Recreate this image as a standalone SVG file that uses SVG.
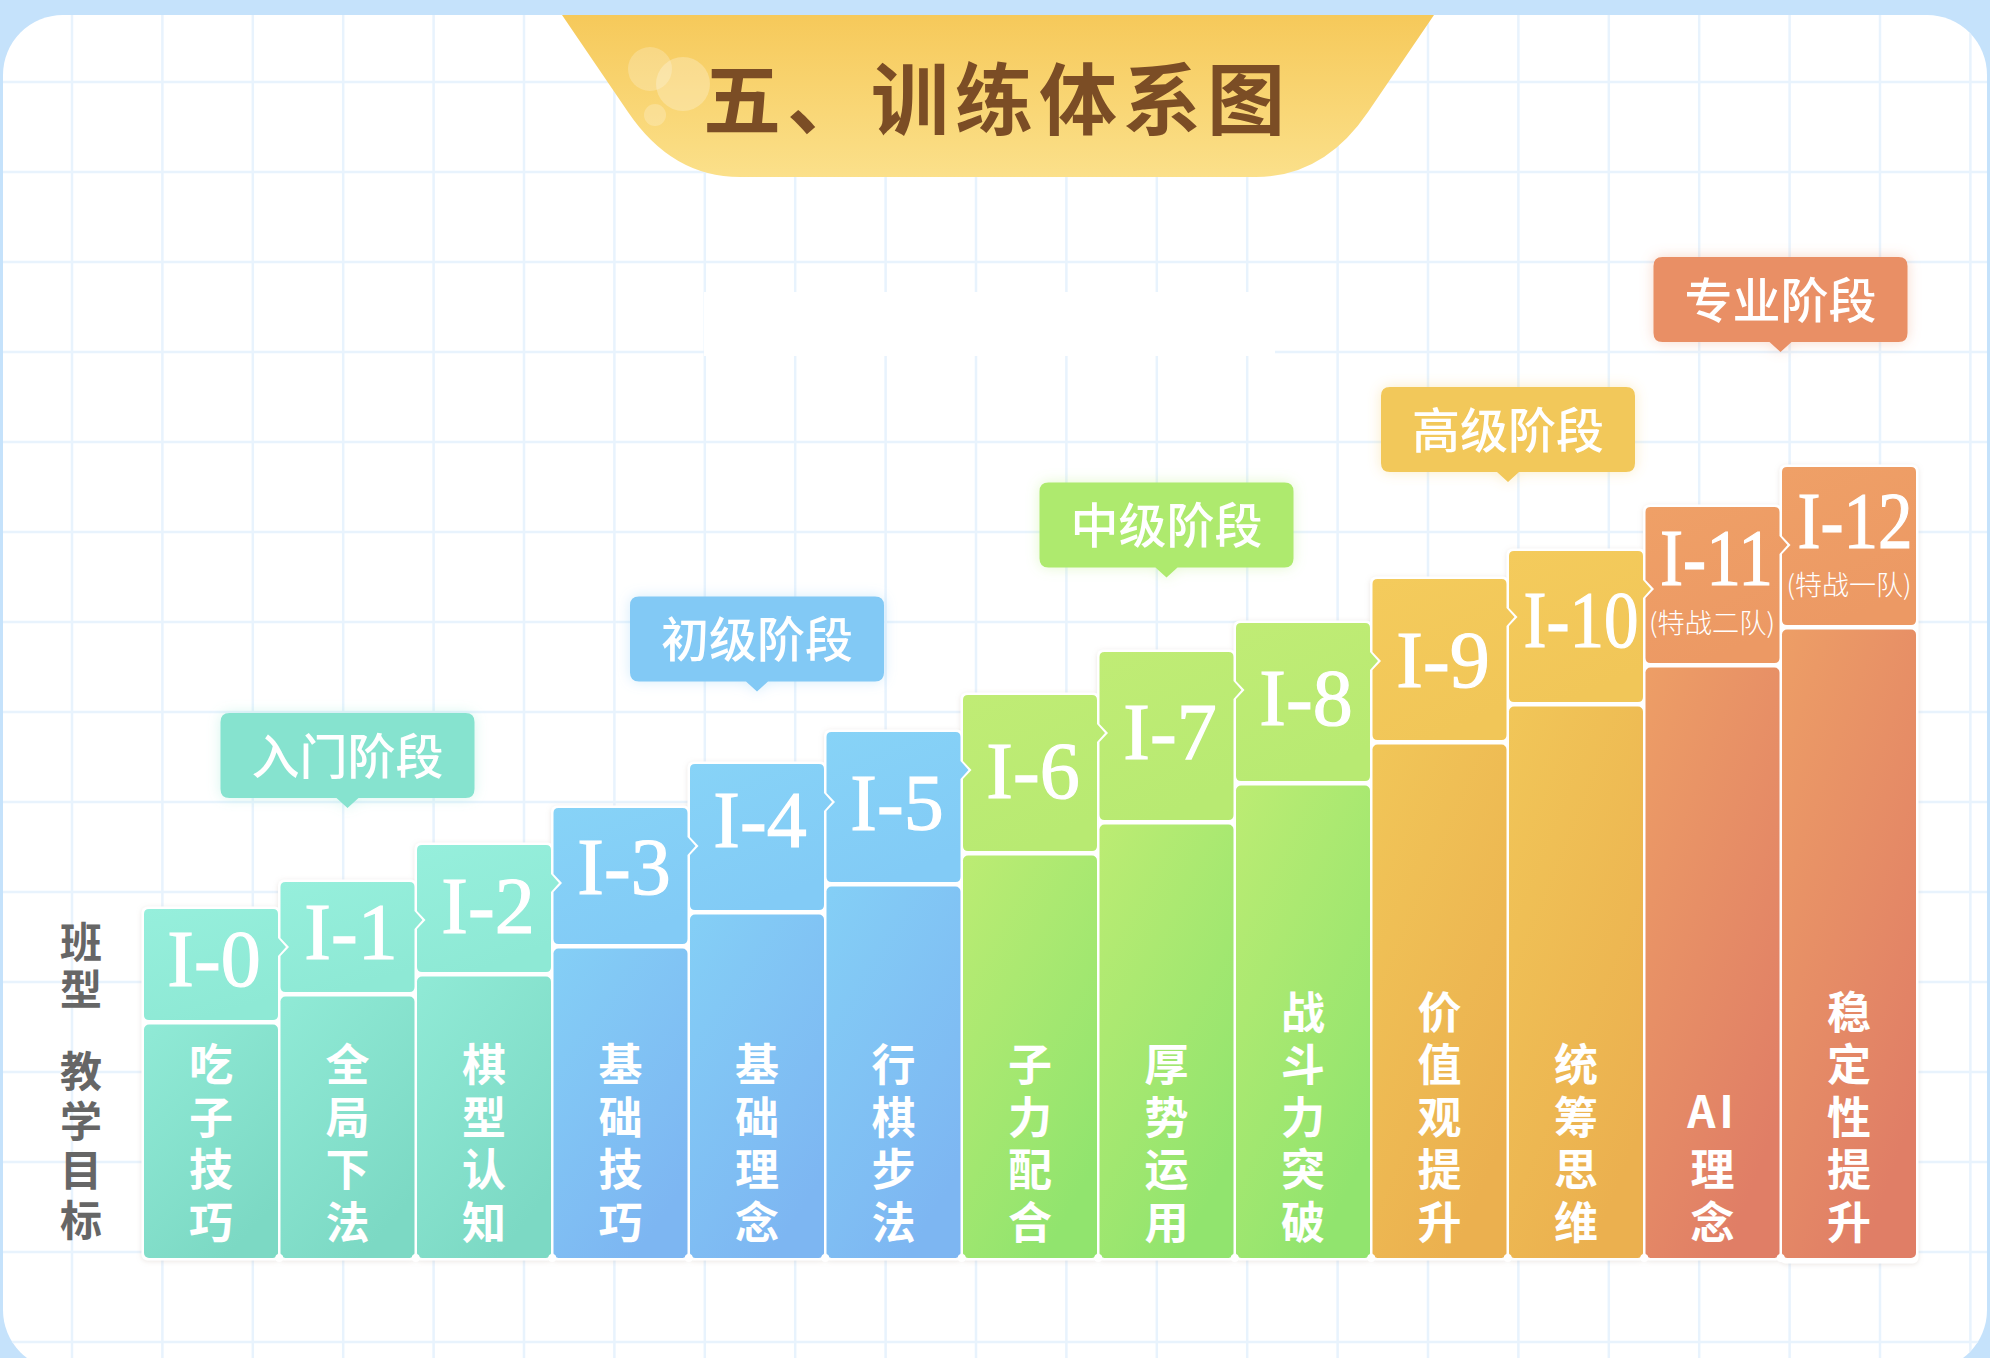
<svg xmlns="http://www.w3.org/2000/svg" width="1990" height="1358" viewBox="0 0 1990 1358">
<defs>
<style>
.grid{stroke:#e8f3fd;stroke-width:2.5;fill:none}
.cn{font-family:"Noto Sans CJK SC","Noto Sans",sans-serif}
.hd{font-family:"Liberation Serif",serif;font-size:80px;fill:#fff;stroke:#fff;stroke-width:1.2px;text-anchor:middle}
.sub{font-family:"Noto Sans CJK SC",sans-serif;font-size:27px;font-weight:300;fill:#fff;text-anchor:middle}
.bd{font-family:"Noto Sans CJK SC",sans-serif;font-size:44px;font-weight:700;fill:#fff;text-anchor:middle}
.vt{font-family:"Noto Sans CJK SC",sans-serif;font-size:44px;font-weight:700;fill:#fff;writing-mode:vertical-rl;text-anchor:start;letter-spacing:8.5px}
.lb{font-family:"Noto Sans CJK SC",sans-serif;font-size:48px;font-weight:500;fill:#fff;text-anchor:middle}
.side{font-family:"Noto Sans CJK SC",sans-serif;font-size:42px;font-weight:700;fill:#666;writing-mode:vertical-rl;text-anchor:start}
.dot{fill:#fff}
</style>
<clipPath id="cardClip"><rect x="3" y="15" width="1984" height="1355" rx="60"/></clipPath>
<linearGradient id="banner" x1="0" y1="0" x2="0" y2="1"><stop offset="0" stop-color="#f6c95a"/><stop offset="1" stop-color="#fbe08a"/></linearGradient>
<linearGradient id="tH" x1="0" y1="0" x2="0.4" y2="1"><stop offset="0" stop-color="#96efdc"/><stop offset="1" stop-color="#8ee9d5"/></linearGradient>
<linearGradient id="tB" x1="0" y1="0" x2="0.6" y2="1"><stop offset="0" stop-color="#90ead6"/><stop offset="1" stop-color="#7cd9c4"/></linearGradient>
<linearGradient id="bH" x1="0" y1="0" x2="0.4" y2="1"><stop offset="0" stop-color="#87d3f7"/><stop offset="1" stop-color="#82cbf6"/></linearGradient>
<linearGradient id="bB" x1="0" y1="0" x2="0.6" y2="1"><stop offset="0" stop-color="#84cff6"/><stop offset="1" stop-color="#7db6f2"/></linearGradient>
<linearGradient id="gH" x1="0" y1="0" x2="0.4" y2="1"><stop offset="0" stop-color="#c0ec75"/><stop offset="1" stop-color="#b8ea72"/></linearGradient>
<linearGradient id="gB" x1="0" y1="0" x2="0.6" y2="1"><stop offset="0" stop-color="#bcec73"/><stop offset="1" stop-color="#91e46e"/></linearGradient>
<linearGradient id="yH" x1="0" y1="0" x2="0.4" y2="1"><stop offset="0" stop-color="#f4cb5c"/><stop offset="1" stop-color="#f1c658"/></linearGradient>
<linearGradient id="yB" x1="0" y1="0" x2="0.6" y2="1"><stop offset="0" stop-color="#f1c658"/><stop offset="1" stop-color="#ebb04f"/></linearGradient>
<linearGradient id="oH" x1="0" y1="0" x2="0.4" y2="1"><stop offset="0" stop-color="#efa067"/><stop offset="1" stop-color="#ec9964"/></linearGradient>
<linearGradient id="oB" x1="0" y1="0" x2="0.6" y2="1"><stop offset="0" stop-color="#ed9e66"/><stop offset="1" stop-color="#e07e66"/></linearGradient>
<filter id="shadow" x="-10%" y="-10%" width="120%" height="120%"><feDropShadow dx="0" dy="1" stdDeviation="2.5" flood-color="#b5a397" flood-opacity="0.28"/></filter>
<filter id="glow" x="-20%" y="-30%" width="140%" height="160%"><feGaussianBlur in="SourceGraphic" stdDeviation="7" result="b"/><feComponentTransfer in="b" result="c"><feFuncA type="linear" slope="0.35"/></feComponentTransfer><feMerge><feMergeNode in="c"/><feMergeNode in="SourceGraphic"/></feMerge></filter>
</defs>

<rect x="0" y="0" width="1990" height="1358" fill="#c5e2fb"/>
<rect x="3" y="15" width="1984" height="1355" rx="60" fill="#ffffff"/>

<g id="grid" clip-path="url(#cardClip)">
<path class="grid" d="M72 15V1358M162.4 15V1358M252.8 15V1358M343.2 15V1358M433.6 15V1358M524 15V1358M614.4 15V1358M704.8 15V1358M795.2 15V1358M885.6 15V1358M976 15V1358M1066.4 15V1358M1156.8 15V1358M1247.2 15V1358M1337.6 15V1358M1428 15V1358M1518.4 15V1358M1608.8 15V1358M1699.2 15V1358M1789.6 15V1358M1880 15V1358M1970.4 15V1358"/>
<path class="grid" d="M0 82H1990M0 172H1990M0 262H1990M0 352H1990M0 442H1990M0 532H1990M0 622H1990M0 712H1990M0 802H1990M0 892H1990M0 982H1990M0 1072H1990M0 1162H1990M0 1252H1990M0 1342H1990"/>
</g>
<rect x="704" y="292" width="571" height="64" fill="#ffffff"/>

<g id="title">
<path d="M562,15 L1434,15 L1368,112 Q1324,177 1256,177 L740,177 Q672,177 628,112 Z" fill="url(#banner)"/>
<circle cx="650" cy="69" r="22" fill="#ffffff" fill-opacity="0.22"/>
<circle cx="683" cy="84" r="27" fill="#ffffff" fill-opacity="0.25"/>
<circle cx="655" cy="115" r="11" fill="#ffffff" fill-opacity="0.22"/>
<text x="703" y="129" class="cn" font-size="78" font-weight="700" fill="#7b4d25" letter-spacing="6">五、训练体系图</text>
</g>

<g id="row-labels">
<text class="side" x="81" y="921.5" letter-spacing="4.5">班型</text>
<text class="side" x="81" y="1050" letter-spacing="7.7">教学目标</text>
</g>

<g id="chart-base" filter="url(#shadow)" fill="#ffffff">
<rect x="141.5" y="906.5" width="139" height="354" rx="6"/>
<rect x="278" y="879.5" width="139" height="381" rx="6"/>
<rect x="414.5" y="842.5" width="139" height="418" rx="6"/>
<rect x="551" y="805.5" width="139" height="455" rx="6"/>
<rect x="687.5" y="761.5" width="139" height="499" rx="6"/>
<rect x="824" y="729.5" width="139" height="531" rx="6"/>
<rect x="960.5" y="692.5" width="139" height="568" rx="6"/>
<rect x="1097" y="649.5" width="139" height="611" rx="6"/>
<rect x="1233.5" y="620.5" width="139" height="640" rx="6"/>
<rect x="1370" y="576.5" width="139" height="684" rx="6"/>
<rect x="1506.5" y="548.5" width="139" height="712" rx="6"/>
<rect x="1643" y="504.5" width="139" height="756" rx="6"/>
<rect x="1779.5" y="464.5" width="139" height="799" rx="6"/>
</g>

<g id="I-0">
<path fill="url(#tH)" d="M149,909 H273 Q278,909 278,914 V938 L286,947 L278,956 V1015 Q278,1020 273,1020 H149 Q144,1020 144,1015 V914 Q144,909 149,909 Z"/>
<rect fill="url(#tB)" x="144" y="1024.5" width="134" height="233.5" rx="5"/>
<text class="hd" x="214" y="986">I-0</text>
<text class="vt" x="211" y="1042.5">吃子技巧</text>
</g>

<g id="I-1">
<path fill="url(#tH)" d="M285.5,882 H409.5 Q414.5,882 414.5,887 V911 L422.5,920 L414.5,929 V987 Q414.5,992 409.5,992 H285.5 Q280.5,992 280.5,987 V956 L289,947 L280.5,938 V887 Q280.5,882 285.5,882 Z"/>
<rect fill="url(#tB)" x="280.5" y="996.5" width="134" height="261.5" rx="5"/>
<text class="hd" x="351" y="959">I-1</text>
<text class="vt" x="347.5" y="1042.5">全局下法</text>
</g>

<g id="I-2">
<path fill="url(#tH)" d="M422,845 H546 Q551,845 551,850 V874 L559,883 L551,892 V967 Q551,972 546,972 H422 Q417,972 417,967 V929 L425.5,920 L417,911 V850 Q417,845 422,845 Z"/>
<rect fill="url(#tB)" x="417" y="976.5" width="134" height="281.5" rx="5"/>
<text class="hd" x="488" y="933">I-2</text>
<text class="vt" x="484" y="1042.5">棋型认知</text>
</g>

<g id="I-3">
<path fill="url(#bH)" d="M558.5,808 H682.5 Q687.5,808 687.5,813 V837 L695.5,846 L687.5,855 V939 Q687.5,944 682.5,944 H558.5 Q553.5,944 553.5,939 V892 L562,883 L553.5,874 V813 Q553.5,808 558.5,808 Z"/>
<rect fill="url(#bB)" x="553.5" y="948.5" width="134" height="309.5" rx="5"/>
<text class="hd" x="624" y="894">I-3</text>
<text class="vt" x="620.5" y="1042.5">基础技巧</text>
</g>

<g id="I-4">
<path fill="url(#bH)" d="M695,764 H819 Q824,764 824,769 V793 L832,802 L824,811 V905 Q824,910 819,910 H695 Q690,910 690,905 V855 L698.5,846 L690,837 V769 Q690,764 695,764 Z"/>
<rect fill="url(#bB)" x="690" y="914.5" width="134" height="343.5" rx="5"/>
<text class="hd" x="760" y="847">I-4</text>
<text class="vt" x="757" y="1042.5">基础理念</text>
</g>

<g id="I-5">
<path fill="url(#bH)" d="M831.5,732 H955.5 Q960.5,732 960.5,737 V761 L968.5,770 L960.5,779 V877 Q960.5,882 955.5,882 H831.5 Q826.5,882 826.5,877 V811 L835,802 L826.5,793 V737 Q826.5,732 831.5,732 Z"/>
<rect fill="url(#bB)" x="826.5" y="886.5" width="134" height="371.5" rx="5"/>
<text class="hd" x="897" y="829.5">I-5</text>
<text class="vt" x="893.5" y="1042.5">行棋步法</text>
</g>

<g id="I-6">
<path fill="url(#gH)" d="M968,695 H1092 Q1097,695 1097,700 V724 L1105,733 L1097,742 V846 Q1097,851 1092,851 H968 Q963,851 963,846 V779 L971.5,770 L963,761 V700 Q963,695 968,695 Z"/>
<rect fill="url(#gB)" x="963" y="855.5" width="134" height="402.5" rx="5"/>
<text class="hd" x="1033" y="798">I-6</text>
<text class="vt" x="1030" y="1042.5">子力配合</text>
</g>

<g id="I-7">
<path fill="url(#gH)" d="M1104.5,652 H1228.5 Q1233.5,652 1233.5,657 V681 L1241.5,690 L1233.5,699 V815 Q1233.5,820 1228.5,820 H1104.5 Q1099.5,820 1099.5,815 V742 L1108,733 L1099.5,724 V657 Q1099.5,652 1104.5,652 Z"/>
<rect fill="url(#gB)" x="1099.5" y="824.5" width="134" height="433.5" rx="5"/>
<text class="hd" x="1170" y="759">I-7</text>
<text class="vt" x="1166.5" y="1042.5">厚势运用</text>
</g>

<g id="I-8">
<path fill="url(#gH)" d="M1241,623 H1365 Q1370,623 1370,628 V652 L1378,661 L1370,670 V776 Q1370,781 1365,781 H1241 Q1236,781 1236,776 V699 L1244.5,690 L1236,681 V628 Q1236,623 1241,623 Z"/>
<rect fill="url(#gB)" x="1236" y="785.5" width="134" height="472.5" rx="5"/>
<text class="hd" x="1306" y="725">I-8</text>
<text class="vt" x="1303" y="990">战斗力突破</text>
</g>

<g id="I-9">
<path fill="url(#yH)" d="M1377.5,579 H1501.5 Q1506.5,579 1506.5,584 V608 L1514.5,617 L1506.5,626 V735 Q1506.5,740 1501.5,740 H1377.5 Q1372.5,740 1372.5,735 V670 L1381,661 L1372.5,652 V584 Q1372.5,579 1377.5,579 Z"/>
<rect fill="url(#yB)" x="1372.5" y="744.5" width="134" height="513.5" rx="5"/>
<text class="hd" x="1443" y="687">I-9</text>
<text class="vt" x="1439.5" y="990">价值观提升</text>
</g>

<g id="I-10">
<path fill="url(#yH)" d="M1514,551 H1638 Q1643,551 1643,556 V580 L1651,589 L1643,598 V697 Q1643,702 1638,702 H1514 Q1509,702 1509,697 V626 L1517.5,617 L1509,608 V556 Q1509,551 1514,551 Z"/>
<rect fill="url(#yB)" x="1509" y="706.5" width="134" height="551.5" rx="5"/>
<text class="hd" x="1581" y="647" textLength="115" lengthAdjust="spacingAndGlyphs">I-10</text>
<text class="vt" x="1576" y="1042.5">统筹思维</text>
</g>

<g id="I-11">
<path fill="url(#oH)" d="M1650.5,507 H1774.5 Q1779.5,507 1779.5,512 V536 L1787.5,545 L1779.5,554 V658 Q1779.5,663 1774.5,663 H1650.5 Q1645.5,663 1645.5,658 V598 L1654,589 L1645.5,580 V512 Q1645.5,507 1650.5,507 Z"/>
<rect fill="url(#oB)" x="1645.5" y="667.5" width="134" height="590.5" rx="5"/>
<text class="hd" x="1716.5" y="585" textLength="113" lengthAdjust="spacingAndGlyphs">I-11</text>
<text class="sub" x="1712" y="633" textLength="126" lengthAdjust="spacingAndGlyphs">(特战二队)</text>
<text class="bd" x="1712.5" y="1128" letter-spacing="4">AI</text>
<text class="vt" x="1712.5" y="1147.5">理念</text>
</g>

<g id="I-12">
<path fill="url(#oH)" d="M1787,467 H1911 Q1916,467 1916,472 V620 Q1916,625 1911,625 H1787 Q1782,625 1782,620 V554 L1790.5,545 L1782,536 V472 Q1782,467 1787,467 Z"/>
<rect fill="url(#oB)" x="1782" y="629.5" width="134" height="628.5" rx="5"/>
<text class="hd" x="1855" y="548" textLength="115" lengthAdjust="spacingAndGlyphs">I-12</text>
<text class="sub" x="1849" y="595" textLength="125" lengthAdjust="spacingAndGlyphs">(特战一队)</text>
<text class="vt" x="1849" y="990">稳定性提升</text>
</g>

<g id="junction-dots">
<circle class="dot" cx="279.25" cy="1258" r="4"/><circle class="dot" cx="415.75" cy="1258" r="4"/><circle class="dot" cx="552.25" cy="1258" r="4"/><circle class="dot" cx="688.75" cy="1258" r="4"/><circle class="dot" cx="825.25" cy="1258" r="4"/><circle class="dot" cx="961.75" cy="1258" r="4"/><circle class="dot" cx="1098.25" cy="1258" r="4"/><circle class="dot" cx="1234.75" cy="1258" r="4"/><circle class="dot" cx="1371.25" cy="1258" r="4"/><circle class="dot" cx="1507.75" cy="1258" r="4"/><circle class="dot" cx="1644.25" cy="1258" r="4"/><circle class="dot" cx="1780.75" cy="1258" r="4"/>
</g>

<g id="connectors"></g>

<g id="stage-entry" filter="url(#glow)">
<path fill="#86e3cf" d="M229.5,713 H465.5 Q474.5,713 474.5,722 V789 Q474.5,798 465.5,798 H358.5 L347.5,808 L336.5,798 H229.5 Q220.5,798 220.5,789 V722 Q220.5,713 229.5,713 Z"/>
<text class="lb" x="347.5" y="773.5">入门阶段</text>
</g>
<g id="stage-junior" filter="url(#glow)">
<path fill="#82c9f5" d="M639,596.5 H875 Q884,596.5 884,605.5 V672.5 Q884,681.5 875,681.5 H768 L757,691.5 L746,681.5 H639 Q630,681.5 630,672.5 V605.5 Q630,596.5 639,596.5 Z"/>
<text class="lb" x="757" y="657">初级阶段</text>
</g>
<g id="stage-middle" filter="url(#glow)">
<path fill="#aeea6e" d="M1048.5,482.5 H1284.5 Q1293.5,482.5 1293.5,491.5 V558.5 Q1293.5,567.5 1284.5,567.5 H1177.5 L1166.5,577.5 L1155.5,567.5 H1048.5 Q1039.5,567.5 1039.5,558.5 V491.5 Q1039.5,482.5 1048.5,482.5 Z"/>
<text class="lb" x="1166.5" y="543">中级阶段</text>
</g>
<g id="stage-senior" filter="url(#glow)">
<path fill="#f2c85a" d="M1390,387 H1626 Q1635,387 1635,396 V463 Q1635,472 1626,472 H1519 L1508,482 L1497,472 H1390 Q1381,472 1381,463 V396 Q1381,387 1390,387 Z"/>
<text class="lb" x="1508" y="447.5">高级阶段</text>
</g>
<g id="stage-pro" filter="url(#glow)">
<path fill="#e98f65" d="M1662.5,257 H1898.5 Q1907.5,257 1907.5,266 V333 Q1907.5,342 1898.5,342 H1791.5 L1780.5,352 L1769.5,342 H1662.5 Q1653.5,342 1653.5,333 V266 Q1653.5,257 1662.5,257 Z"/>
<text class="lb" x="1780.5" y="317.5">专业阶段</text>
</g>
</svg>
